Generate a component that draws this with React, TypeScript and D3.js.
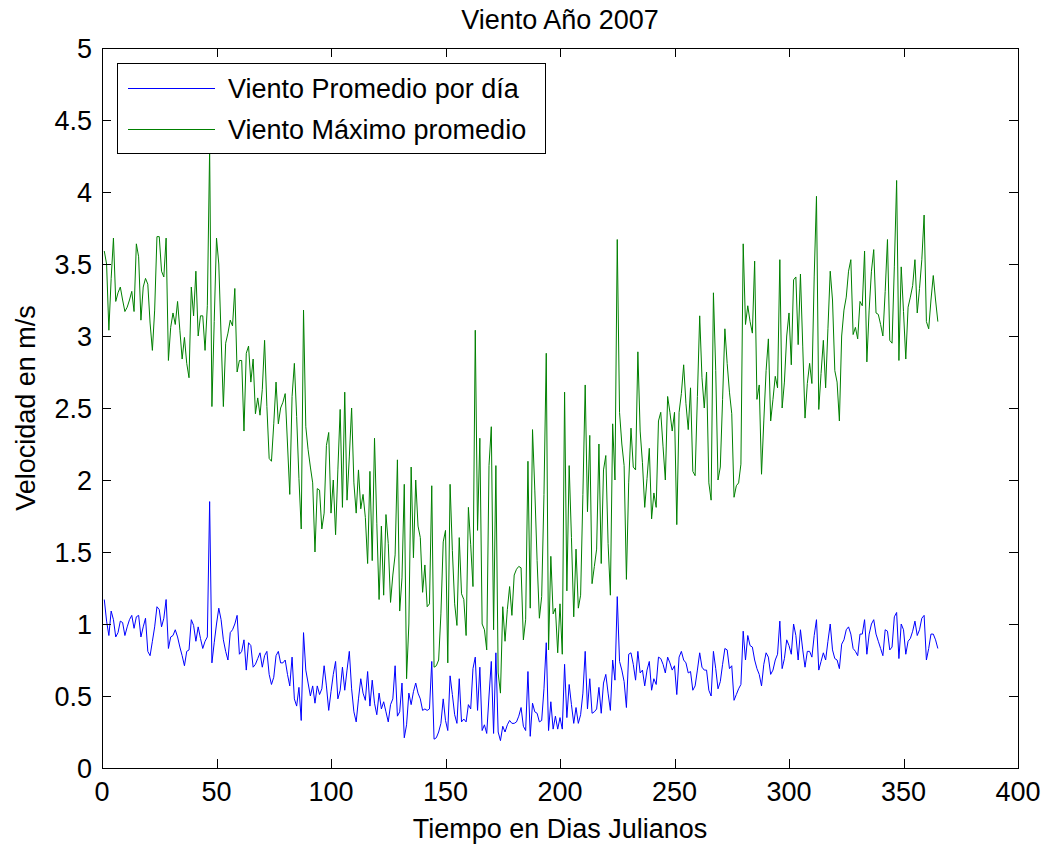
import React, { useEffect, useRef } from "react";
import * as d3 from "d3";

// Daily mean wind speed (m/s), days 1..365 of 2007
const vientoPromedio: number[] = [
  1.17, 1.02, 0.92, 1.09, 1.03, 0.91, 0.94, 1.02, 1.01, 0.92,
  0.98, 1.03, 1.06, 0.97, 1.05, 1.06, 0.91, 0.98, 1.04, 0.81,
  0.78, 0.88, 0.98, 1.12, 1.10, 0.98, 1.04, 1.17, 0.83, 0.91,
  0.92, 0.96, 0.91, 0.84, 0.78, 0.71, 0.81, 0.82, 1.03, 0.99,
  0.88, 0.98, 0.90, 0.83, 0.88, 0.91, 1.85, 0.73, 0.87, 1.00,
  1.11, 1.03, 0.89, 0.81, 0.75, 0.94, 0.96, 1.00, 1.06, 0.79,
  0.81, 0.89, 0.68, 0.87, 0.85, 0.70, 0.72, 0.76, 0.80, 0.70,
  0.78, 0.81, 0.65, 0.58, 0.63, 0.78, 0.81, 0.73, 0.73, 0.75,
  0.65, 0.57, 0.77, 0.48, 0.43, 0.56, 0.33, 0.94, 0.68, 0.59,
  0.50, 0.57, 0.45, 0.57, 0.51, 0.55, 0.71, 0.57, 0.40, 0.53,
  0.65, 0.74, 0.48, 0.54, 0.70, 0.54, 0.68, 0.81, 0.55, 0.39,
  0.32, 0.48, 0.62, 0.52, 0.47, 0.67, 0.43, 0.61, 0.45, 0.37,
  0.52, 0.41, 0.46, 0.39, 0.32, 0.44, 0.48, 0.71, 0.36, 0.39,
  0.59, 0.21, 0.30, 0.52, 0.44, 0.53, 0.59, 0.52, 0.48, 0.40,
  0.41, 0.40, 0.41, 0.74, 0.20, 0.21, 0.25, 0.31, 0.48, 0.33,
  0.26, 0.64, 0.51, 0.37, 0.31, 0.62, 0.32, 0.34, 0.32, 0.44,
  0.41, 0.69, 0.77, 0.40, 0.70, 0.26, 0.30, 0.24, 0.50, 0.74,
  0.24, 0.80, 0.25, 0.19, 0.29, 0.25, 0.30, 0.33, 0.31, 0.31,
  0.32, 0.36, 0.42, 0.29, 0.26, 0.67, 0.22, 0.45, 0.39, 0.38,
  0.32, 0.33, 0.55, 0.87, 0.26, 0.46, 0.27, 0.36, 0.27, 0.35,
  0.27, 0.72, 0.35, 0.58, 0.44, 0.31, 0.42, 0.31, 0.37, 0.52,
  0.81, 0.41, 0.62, 0.38, 0.39, 0.41, 0.56, 0.38, 0.59, 0.65,
  0.52, 0.40, 0.75, 0.61, 1.19, 0.74, 0.68, 0.60, 0.42, 0.79,
  0.80, 0.72, 0.61, 0.81, 0.66, 0.68, 0.57, 0.68, 0.74, 0.54,
  0.62, 0.58, 0.77, 0.76, 0.72, 0.66, 0.77, 0.73, 0.68, 0.71,
  0.51, 0.77, 0.81, 0.75, 0.73, 0.66, 0.67, 0.54, 0.57, 0.68,
  0.80, 0.70, 0.68, 0.68, 0.54, 0.50, 0.81, 0.69, 0.55, 0.60,
  0.72, 0.83, 0.82, 0.69, 0.71, 0.47, 0.51, 0.55, 0.58, 0.95,
  0.75, 0.92, 0.85, 0.84, 0.75, 0.69, 0.65, 0.57, 0.72, 0.80,
  0.77, 0.65, 0.68, 0.75, 0.79, 1.02, 0.69, 0.76, 0.89, 0.85,
  0.79, 1.00, 0.92, 0.75, 0.96, 0.82, 0.70, 0.81, 0.81, 0.77,
  0.92, 1.03, 0.68, 0.74, 0.80, 0.75, 0.88, 1.00, 0.82, 0.76,
  0.75, 0.69, 0.86, 0.89, 0.96, 0.98, 0.93, 0.83, 0.81, 0.78,
  0.93, 0.93, 1.03, 0.79, 0.93, 1.00, 1.03, 0.93, 0.88, 0.83,
  0.78, 0.96, 0.95, 0.82, 0.84, 1.05, 1.08, 0.76, 1.00, 0.96,
  0.79, 0.88, 0.90, 0.95, 1.02, 0.92, 0.96, 1.04, 1.06, 0.75,
  0.83, 0.93, 0.93, 0.89, 0.83,
];

// Daily mean of maximum wind speed (m/s), days 1..365 of 2007
const vientoMaximo: number[] = [
  3.59, 3.50, 3.04, 3.40, 3.68, 3.24, 3.30, 3.34, 3.25, 3.17,
  3.20, 3.25, 3.31, 3.17, 3.64, 3.55, 3.11, 3.34, 3.40, 3.36,
  3.09, 2.90, 3.18, 3.69, 3.69, 3.45, 3.41, 3.68, 2.83, 3.06,
  3.16, 3.08, 3.24, 3.04, 2.84, 2.99, 2.81, 2.71, 3.34, 3.14,
  3.45, 3.00, 3.14, 3.14, 2.90, 3.21, 4.30, 2.51, 3.10, 3.68,
  3.50, 3.00, 2.51, 2.95, 3.02, 3.11, 3.07, 3.33, 2.75, 2.83,
  2.83, 2.34, 2.88, 2.93, 2.68, 2.84, 2.46, 2.57, 2.45, 2.63,
  2.97, 2.51, 2.15, 2.13, 2.39, 2.68, 2.39, 2.50, 2.54, 2.60,
  2.25, 1.90, 2.58, 2.81, 2.44, 2.01, 1.66, 3.18, 2.37, 2.21,
  2.09, 1.98, 1.50, 1.94, 1.93, 1.66, 1.77, 2.24, 2.33, 1.77,
  2.00, 1.62, 2.07, 2.49, 1.81, 2.61, 1.86, 2.16, 2.50, 1.98,
  1.77, 2.07, 1.80, 1.90, 1.74, 1.42, 2.06, 1.44, 2.29, 1.70,
  1.17, 1.68, 1.20, 1.76, 1.56, 1.15, 1.34, 1.48, 2.14, 1.09,
  1.32, 1.97, 0.62, 1.00, 2.09, 1.46, 2.00, 1.68, 1.60, 1.22,
  1.41, 1.12, 1.14, 1.96, 0.70, 0.71, 0.75, 1.07, 1.57, 1.65,
  0.73, 1.97, 1.51, 1.14, 0.99, 1.60, 1.21, 1.17, 0.92, 1.81,
  1.55, 1.26, 3.04, 1.65, 2.29, 1.00, 0.96, 0.82, 2.10, 2.37,
  0.96, 2.10, 0.66, 0.52, 1.12, 0.88, 1.10, 1.26, 1.06, 1.34,
  1.38, 1.40, 1.39, 0.89, 1.03, 2.13, 1.11, 2.35, 1.93, 1.44,
  1.04, 1.19, 1.90, 2.88, 0.82, 1.47, 1.07, 1.11, 0.80, 1.14,
  0.79, 2.61, 1.23, 2.10, 1.60, 1.05, 1.52, 1.11, 1.20, 1.90,
  2.66, 1.78, 2.31, 1.28, 1.40, 1.52, 2.25, 1.42, 2.07, 2.17,
  1.56, 1.20, 2.39, 2.00, 3.67, 2.47, 2.25, 2.10, 1.31, 1.98,
  2.36, 2.09, 2.07, 2.89, 2.34, 2.12, 1.81, 2.01, 2.22, 1.73,
  1.91, 1.81, 2.41, 2.47, 2.23, 2.00, 2.58, 2.47, 2.34, 2.47,
  1.69, 2.47, 2.60, 2.80, 2.53, 2.35, 2.64, 2.06, 2.03, 2.58,
  3.14, 2.71, 2.50, 2.75, 1.98, 1.86, 3.30, 2.76, 2.00, 2.09,
  2.56, 3.05, 2.81, 2.61, 2.46, 1.88, 1.96, 1.98, 2.11, 3.64,
  3.08, 3.21, 3.10, 3.02, 3.52, 2.56, 2.66, 2.04, 2.41, 2.76,
  2.98, 2.41, 2.56, 2.72, 2.64, 3.53, 2.50, 2.68, 3.00, 3.16,
  2.80, 3.39, 3.41, 2.94, 3.43, 2.93, 2.43, 2.67, 2.81, 2.67,
  3.41, 3.97, 2.49, 2.74, 2.97, 2.64, 3.05, 3.45, 3.25, 2.76,
  2.68, 2.41, 3.00, 3.18, 3.27, 3.45, 3.53, 3.01, 3.06, 2.98,
  3.24, 3.21, 3.59, 2.82, 3.18, 3.45, 3.60, 3.16, 3.15, 3.08,
  3.00, 3.31, 3.67, 2.97, 2.95, 3.48, 4.08, 2.83, 3.48, 3.17,
  2.84, 3.20, 3.27, 3.35, 3.53, 3.16, 3.33, 3.53, 3.84, 3.10,
  3.05, 3.25, 3.42, 3.25, 3.10,
];

const xTicks: number[] = [0, 50, 100, 150, 200, 250, 300, 350, 400];
const yTicks: number[] = [0, 0.5, 1, 1.5, 2, 2.5, 3, 3.5, 4, 4.5, 5];

const seriesNames: string[] = ["Viento Promedio por día", "Viento Máximo promedio"];
const seriesColors: string[] = ["#0000ff", "#008000"];

const W = 1043;
const H = 844;
const M = { left: 102, right: 25, top: 48, bottom: 76 };
const FONT = "'Liberation Sans', Arial, Helvetica, sans-serif";
const FS = 27;

export default function App() {
  const ref = useRef<SVGSVGElement | null>(null);

  useEffect(() => {
    const svg = d3.select(ref.current);
    svg.selectAll("*").remove();

    const x0 = M.left;
    const x1 = W - M.right;
    const y0 = H - M.bottom;
    const y1 = M.top;

    const x = d3.scaleLinear().domain([0, 400]).range([x0, x1]);
    const y = d3.scaleLinear().domain([0, 5]).range([y0, y1]);

    const g = svg.append("g");

    // series lines
    const seriesData = [vientoPromedio, vientoMaximo];
    seriesData.forEach((vals, i) => {
      const line = d3
        .line<number>()
        .x((_, k) => x(k + 1))
        .y((v) => y(v));
      g.append("path")
        .attr("d", line(vals) as string)
        .attr("fill", "none")
        .attr("stroke", seriesColors[i])
        .attr("stroke-width", 1)
        .attr("stroke-linejoin", "miter");
    });

    // axes box
    g.append("rect")
      .attr("x", x0 + 0.5)
      .attr("y", y1 + 0.5)
      .attr("width", x1 - x0)
      .attr("height", y0 - y1)
      .attr("fill", "none")
      .attr("stroke", "#000")
      .attr("stroke-width", 1);

    const tickLen = 9;
    // x ticks (bottom and top, inward)
    xTicks.forEach((t) => {
      const px = Math.round(x(t)) + 0.5;
      g.append("line").attr("x1", px).attr("x2", px).attr("y1", y0).attr("y2", y0 - tickLen).attr("stroke", "#000");
      g.append("line").attr("x1", px).attr("x2", px).attr("y1", y1).attr("y2", y1 + tickLen).attr("stroke", "#000");
      g.append("text")
        .attr("x", x(t))
        .attr("y", y0 + 33)
        .attr("text-anchor", "middle")
        .attr("font-family", FONT)
        .attr("font-size", FS)
        .text(String(t));
    });

    // y ticks (left and right, inward)
    yTicks.forEach((t) => {
      const py = Math.round(y(t)) + 0.5;
      g.append("line").attr("x1", x0).attr("x2", x0 + tickLen).attr("y1", py).attr("y2", py).attr("stroke", "#000");
      g.append("line").attr("x1", x1).attr("x2", x1 - tickLen).attr("y1", py).attr("y2", py).attr("stroke", "#000");
      g.append("text")
        .attr("x", x0 - 10)
        .attr("y", y(t) + 10)
        .attr("text-anchor", "end")
        .attr("font-family", FONT)
        .attr("font-size", FS)
        .text(String(t));
    });

    // title and axis labels
    g.append("text")
      .attr("x", (x0 + x1) / 2)
      .attr("y", 29)
      .attr("text-anchor", "middle")
      .attr("font-family", FONT)
      .attr("font-size", FS)
      .text("Viento Año 2007");

    g.append("text")
      .attr("x", (x0 + x1) / 2)
      .attr("y", 838)
      .attr("text-anchor", "middle")
      .attr("font-family", FONT)
      .attr("font-size", FS)
      .text("Tiempo en Dias Julianos");

    g.append("text")
      .attr("transform", `translate(35, ${(y0 + y1) / 2}) rotate(-90)`)
      .attr("text-anchor", "middle")
      .attr("font-family", FONT)
      .attr("font-size", FS)
      .text("Velocidad en m/s");

    // legend
    const lg = g.append("g");
    lg.append("rect")
      .attr("x", 117.5)
      .attr("y", 63.5)
      .attr("width", 428)
      .attr("height", 90)
      .attr("fill", "#fff")
      .attr("stroke", "#000");
    seriesNames.forEach((name, i) => {
      const ly = 88 + i * 41;
      lg.append("line")
        .attr("x1", 128)
        .attr("x2", 215)
        .attr("y1", ly + 0.5)
        .attr("y2", ly + 0.5)
        .attr("stroke", seriesColors[i]);
      lg.append("text")
        .attr("x", 228)
        .attr("y", ly + 10)
        .attr("font-family", FONT)
        .attr("font-size", FS)
        .text(name);
    });
  }, []);

  return (
    <div style={{ position: "absolute", left: 0, top: 0 }}>
      <svg ref={ref} width={W} height={H} style={{ display: "block", background: "#fff" }} />
    </div>
  );
}
